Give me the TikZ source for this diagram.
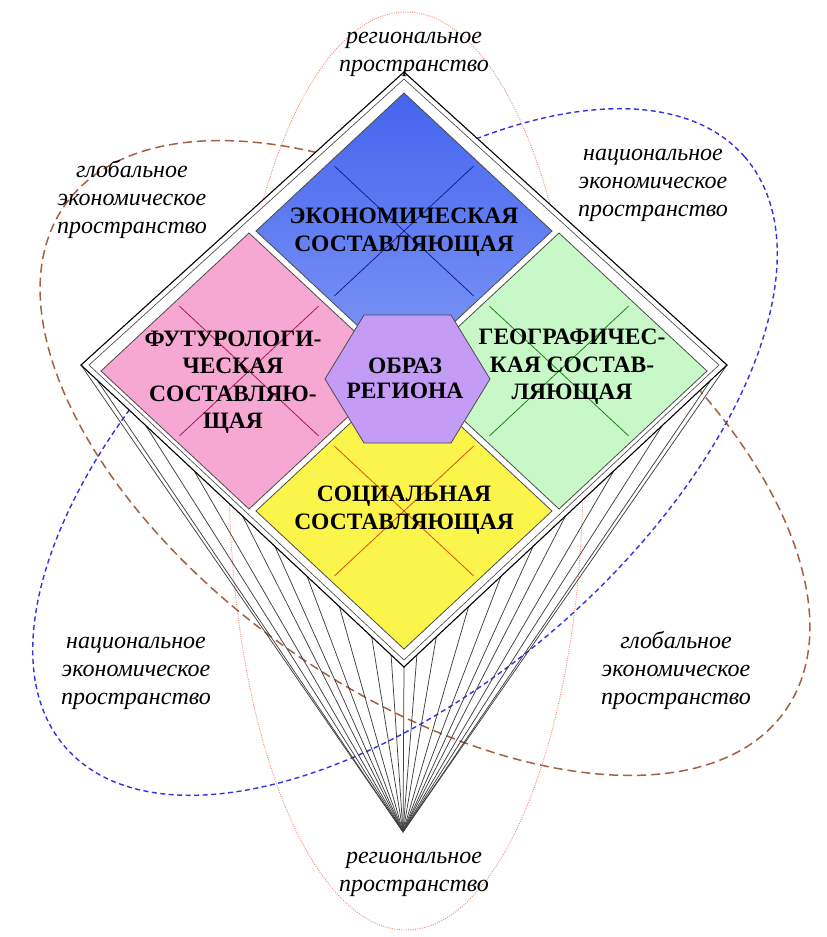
\documentclass[tikz,border=0pt]{standalone}
\usepackage{fontspec}
\setmainfont{Liberation Serif}
\usetikzlibrary{shapes.geometric,calc}
\definecolor{brownd}{RGB}{165,95,65}
\definecolor{blued}{RGB}{50,50,225}
\definecolor{pinkd}{RGB}{240,140,120}
\definecolor{ecoA}{RGB}{68,100,238}
\definecolor{ecoB}{RGB}{128,152,246}
\definecolor{ecoL}{RGB}{20,30,150}
\definecolor{futF}{RGB}{247,168,210}
\definecolor{futL}{RGB}{160,30,80}
\definecolor{geoF}{RGB}{200,248,200}
\definecolor{geoL}{RGB}{30,130,30}
\definecolor{socF}{RGB}{250,244,75}
\definecolor{socL}{RGB}{225,80,15}
\definecolor{hexF}{RGB}{196,156,246}
\begin{document}
\begin{tikzpicture}[x=1pt,y=-1pt,
  sublabel/.style={font=\fontsize{24}{28}\selectfont\itshape, align=center, inner sep=0pt},
  complabel/.style={font=\fontsize{23.5}{27.5}\selectfont\bfseries, align=center, inner sep=0pt},
  tile/.style={diamond, minimum width=296pt, minimum height=276pt, inner sep=0pt, outer sep=0pt, draw=black!70, line width=0.8pt},
  fanline/.style={draw=black!75, line width=0.75pt},
  crossline/.style={line width=0.8pt},
]
\useasboundingbox (0,0) rectangle (827,937);

% spaces (ellipses)
\draw[pinkd, line width=0.9pt, dash pattern=on 1pt off 1.3pt] (406,471) ellipse [x radius=177pt, y radius=459pt];
\draw[brownd, line width=1.5pt, dash pattern=on 9pt off 5pt, shift={(425,458)}, rotate=-35] (0,0) ellipse [x radius=440pt, y radius=235pt];
\draw[blued, line width=1.4pt, dash pattern=on 5pt off 3.5pt, shift={(405,452)}, rotate=41] (0,0) ellipse [x radius=450pt, y radius=232pt];

% frame coordinates
\coordinate (apex) at (403,832);
\coordinate (fT) at (404,72);
\coordinate (fL) at (81,365);
\coordinate (fR) at (727,365);
\coordinate (fB) at (404,667);

% fan of the pyramid
\foreach \t in {0,0.05,0.2,0.35,0.5,0.6,0.7,0.8,0.9,0.96}{
  \draw[fanline] ($(fL)!\t!(fB)$) -- (apex);
  \draw[fanline] ($(fR)!\t!(fB)$) -- (apex);
}
\draw[fanline] (fB) -- (apex);

% frame
\draw[fill=white, line width=1.1pt] (fT) -- (fR) -- (fB) -- (fL) -- cycle;
\draw[black!75, line width=0.6pt] (404,79) -- (719,365) -- (404,660) -- (89,365) -- cycle;

% tiles
\node[tile, top color=ecoA, bottom color=ecoB] (eco) at (404,231) {};
\node[tile, fill=futF] (fut) at (249,371) {};
\node[tile, fill=geoF] (geo) at (559,371) {};
\node[tile, fill=socF] (soc) at (404,511) {};

\foreach \n/\c in {eco/ecoL, fut/futL, geo/geoL, soc/socL}{
  \draw[crossline, \c] ($($(\n.north)!0.5!(\n.west)$)!0.03!($(\n.east)!0.5!(\n.south)$)$)
     -- ($($(\n.north)!0.5!(\n.west)$)!0.97!($(\n.east)!0.5!(\n.south)$)$);
  \draw[crossline, \c] ($($(\n.north)!0.5!(\n.east)$)!0.03!($(\n.west)!0.5!(\n.south)$)$)
     -- ($($(\n.north)!0.5!(\n.east)$)!0.97!($(\n.west)!0.5!(\n.south)$)$);
}

% hexagon
\draw[fill=hexF, draw=black!70, line width=0.8pt] (325,379) -- (364,315) -- (451,315) -- (490,379) -- (451,443) -- (364,443) -- cycle;

% component labels
\node[complabel] (ecoT) at (404,232) {ЭКОНОМИЧЕСКАЯ\\СОСТАВЛЯЮЩАЯ};
\node[complabel] (futT) at (233,382) {ФУТУРОЛОГИ-\\ЧЕСКАЯ\\СОСТАВЛЯЮ-\\ЩАЯ};
\node[complabel] (geoT) at (572,367) {ГЕОГРАФИЧЕС-\\КАЯ СОСТАВ-\\ЛЯЮЩАЯ};
\node[complabel] (socT) at (404,510) {СОЦИАЛЬНАЯ\\СОСТАВЛЯЮЩАЯ};
\node[complabel, font=\fontsize{23.5}{25}\selectfont\bfseries] (imgT) at (405,378) {ОБРАЗ\\РЕГИОНА};

% space labels
\node[sublabel] (regTop) at (414,54) {региональное\\пространство};
\node[sublabel] (regBot) at (414,874) {региональное\\пространство};
\node[sublabel] (globTL) at (132,199) {глобальное\\экономическое\\пространство};
\node[sublabel] (natTR) at (653,185) {национальное\\экономическое\\пространство};
\node[sublabel] (natBL) at (136,673) {национальное\\экономическое\\пространство};
\node[sublabel] (globBR) at (676,670) {глобальное\\экономическое\\пространство};
\end{tikzpicture}
\end{document}
